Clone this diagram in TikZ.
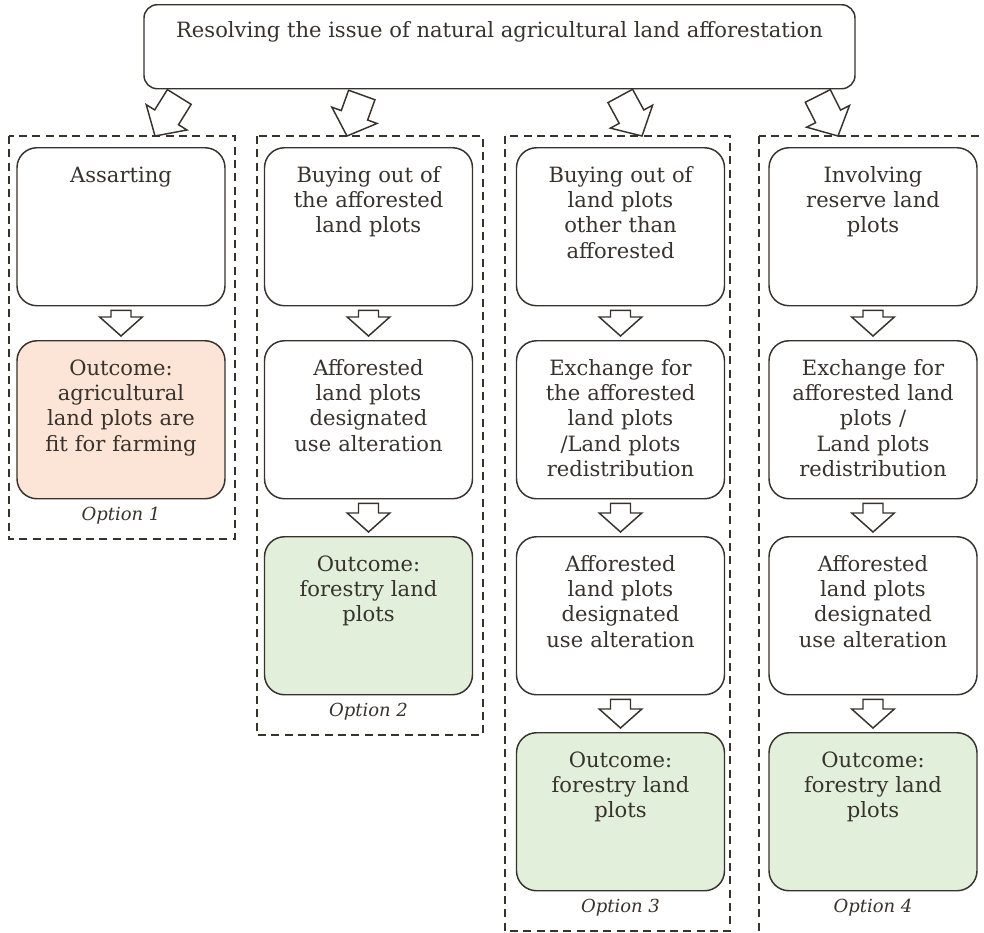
\documentclass[tikz,border=0pt]{standalone}
\usepackage{fontspec}
\setmainfont{DejaVu Serif}
\usepackage{tikz}
\usetikzlibrary{calc}

\definecolor{ink}{HTML}{38322D}
\definecolor{farmfill}{HTML}{FCE4D6}
\definecolor{forestfill}{HTML}{E2EFDA}

\tikzset{
  headline/.style={draw=ink, line width=1.1pt, rounded corners=10pt, fill=white,
    anchor=north, inner sep=0pt, minimum width=533.25pt,
    text height=24.75pt, text depth=38.25pt, text=ink, font=\fontsize{15.8}{19}\selectfont},
  stage/.style={draw=ink, line width=1.1pt, rounded corners=15pt, fill=white,
    anchor=north, inner sep=0pt, minimum width=156pt, minimum height=118.5pt},
  stagetext/.style={text=ink, font=\fontsize{15.8}{19}\selectfont, align=center,
    text width=154pt, anchor=north, inner sep=0pt, execute at begin node=\strut},
  option/.style={draw=ink, line width=0.9pt, dash pattern=on 6pt off 4pt},
  optlabel/.style={text=ink, font=\fontsize{13.5}{15}\selectfont\itshape, anchor=base},
  flow/.style={draw=ink, line width=1.1pt, fill=white, line join=miter}
}

% block arrow: shaft half width, head half width, head length, tail, tip
\newcommand{\blockarrow}[5]{%
  \coordinate (ba-t) at (#4);
  \coordinate (ba-h) at (#5);
  \coordinate (ba-b) at ($(ba-h)!#3!(ba-t)$);
  \draw[flow] ($(ba-t)!#1!90:(ba-h)$) -- ($(ba-b)!#1!90:(ba-h)$)
    -- ($(ba-b)!#2!90:(ba-h)$) -- (ba-h) -- ($(ba-b)!#2!-90:(ba-h)$)
    -- ($(ba-b)!#1!-90:(ba-h)$) -- ($(ba-t)!#1!-90:(ba-h)$) -- cycle;
}
\newcommand{\toparrow}[2]{\blockarrow{10.5pt}{18pt}{16.5pt}{#1}{#2}}
\newcommand{\rowarrow}[2]{\blockarrow{7.5pt}{16pt}{14.25pt}{$(#1.south)+(0,4)$}{$(#2.north)+(0,-4)$}}

% box with its text set from the top
\newcommand{\stagebox}[5][white]{%
  \node[stage, fill=#1] (#2) at (#3,#4) {};
  \node[stagetext] (#2-t) at ([yshift=-12.95pt]#2.north) {#5};
}

\begin{document}
\begin{tikzpicture}[x=0.75pt, y=-0.75pt]
  \useasboundingbox (0,0) rectangle (984,932);

  \node[headline] (top) at (499.5,4) {Resolving the issue of natural agricultural land afforestation};

  % dashed option frames
  \draw[option] (9,136) coordinate (opt1) rectangle (235,539);
  \draw[option] (257,136) coordinate (opt2) rectangle (483,735);
  \draw[option] (505,136) coordinate (opt3) rectangle (730,931);
  \draw[option] (759,136) coordinate (opt4) rectangle (985,940);

  % option 1
  \stagebox{c1r1}{121}{147}{Assarting}
  \stagebox[farmfill]{c1r2}{121}{340}{Outcome:\\ agricultural\\ land plots are\\ fit for farming}
  \node[optlabel] (lab1) at ([yshift=-15.5pt]c1r2.south) {Option 1};

  % option 2
  \stagebox{c2r1}{368.5}{147}{Buying out of\\ the afforested\\ land plots}
  \stagebox{c2r2}{368.5}{340}{Afforested\\ land plots\\ designated\\ use alteration}
  \stagebox[forestfill]{c2r3}{368.5}{536}{Outcome:\\ forestry land\\ plots}
  \node[optlabel] (lab2) at ([yshift=-15.5pt]c2r3.south) {Option 2};

  % option 3
  \stagebox{c3r1}{620.5}{147}{Buying out of\\ land plots\\ other than\\ afforested}
  \stagebox{c3r2}{620.5}{340}{Exchange for\\ the afforested\\ land plots\\ /Land plots\\ redistribution}
  \stagebox{c3r3}{620.5}{536}{Afforested\\ land plots\\ designated\\ use alteration}
  \stagebox[forestfill]{c3r4}{620.5}{732}{Outcome:\\ forestry land\\ plots}
  \node[optlabel] (lab3) at ([yshift=-15.5pt]c3r4.south) {Option 3};

  % option 4
  \stagebox{c4r1}{873}{147}{Involving\\ reserve land\\ plots}
  \stagebox{c4r2}{873}{340}{Exchange for\\ afforested land\\ plots /\\ Land plots\\ redistribution}
  \stagebox{c4r3}{873}{536}{Afforested\\ land plots\\ designated\\ use alteration}
  \stagebox[forestfill]{c4r4}{873}{732}{Outcome:\\ forestry land\\ plots}
  \node[optlabel] (lab4) at ([yshift=-15.5pt]c4r4.south) {Option 4};

  % arrows
  \toparrow{$(top.south west)+(36,7.5)$}{$(opt1)+(146,0)$}
  \toparrow{$(top.south west)+(218.5,5.5)$}{$(opt2)+(90,0)$}
  \toparrow{$(top.south west)+(477,6.5)$}{$(opt3)+(137,0)$}
  \toparrow{$(top.south west)+(674.5,6.5)$}{$(opt4)+(79,0)$}
  \foreach \srcbox/\dstbox in {c1r1/c1r2, c2r1/c2r2, c2r2/c2r3, c3r1/c3r2, c3r2/c3r3,
      c3r3/c3r4, c4r1/c4r2, c4r2/c4r3, c4r3/c4r4}
    {\rowarrow{\srcbox}{\dstbox}}
\end{tikzpicture}
\end{document}
